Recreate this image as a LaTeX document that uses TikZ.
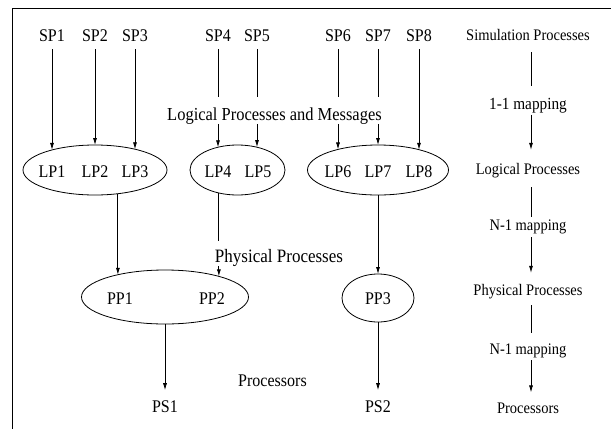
\documentclass[tikz,border=0pt]{standalone}
\usepackage{fontspec}
\setmainfont{Liberation Serif}[FakeStretch=0.9]
\usetikzlibrary{shapes.geometric,arrows.meta}
\begin{document}
\begin{tikzpicture}[x=1pt,y=-1pt,
  lbl/.style={inner sep=0pt,outer sep=0pt,anchor=base,font=\fontsize{17.8}{20}\selectfont},
  rcol/.style={inner sep=0pt,outer sep=0pt,anchor=base,font=\fontsize{16.1}{18}\selectfont},
  ell/.style={draw,ellipse,inner sep=0pt,outer sep=0pt,line width=0.8pt},
  conn/.style={line width=0.8pt},
  arr/.style={conn,-{Latex[length=7pt,width=4pt]}},
  frame/.style={line width=1pt}]
\useasboundingbox (0,0) rectangle (611,429);
\draw[frame] (611,8) -- (12,8) -- (12,429);

% top labels
\node[lbl] (sp1) at (52,41) {SP1};
\node[lbl] (sp2) at (95,41) {SP2};
\node[lbl] (sp3) at (135,41) {SP3};
\node[lbl] (sp4) at (218,41) {SP4};
\node[lbl] (sp5) at (257,41) {SP5};
\node[lbl] (sp6) at (338,41) {SP6};
\node[lbl] (sp7) at (378,41) {SP7};
\node[lbl] (sp8) at (419,41) {SP8};

% ellipses of logical processes
\node[ell,minimum width=144pt,minimum height=50pt] (e1) at (95,170) {};
\node[ell,minimum width=95pt,minimum height=50pt] (e2) at (237.5,170) {};
\node[ell,minimum width=141pt,minimum height=50pt] (e3) at (378,170) {};
\node[lbl] (lp1) at (52,177.5) {LP1};
\node[lbl] (lp2) at (95,177.5) {LP2};
\node[lbl] (lp3) at (135,177.5) {LP3};
\node[lbl] (lp4) at (218,177.5) {LP4};
\node[lbl] (lp5) at (258,177.5) {LP5};
\node[lbl] (lp6) at (338,177.5) {LP6};
\node[lbl] (lp7) at (378,177.5) {LP7};
\node[lbl] (lp8) at (419,177.5) {LP8};

\node[lbl,font=\fontsize{18.3}{20}\selectfont] (lpm) at (274.5,120) {Logical Processes and Messages};

% physical processes
\node[ell,minimum width=167pt,minimum height=54pt] (p1) at (165,297) {};
\node[ell,minimum width=72pt,minimum height=48pt] (p3) at (378,298) {};
\node[lbl] (pp1) at (120,304.5) {PP1};
\node[lbl] (pp2) at (212,304.5) {PP2};
\node[lbl] (pp3) at (378,304.5) {PP3};
\node[lbl,font=\fontsize{18.9}{21}\selectfont] (php) at (279,262) {Physical Processes};

% processors
\node[lbl] (ps1) at (165,412) {PS1};
\node[lbl] (ps2) at (378,412) {PS2};
\node[lbl] (prc) at (272.5,386.5) {Processors};

% SP -> LP
\draw[arr,shorten <=8pt] (sp1.south) -- (sp1.south |- e1.155);
\draw[arr,shorten <=8pt] (sp2.south) -- (sp2.south |- e1.north);
\draw[arr,shorten <=8pt] (sp3.south) -- (sp3.south |- e1.27);
\draw[conn,shorten <=8pt,shorten >=10.3pt] (sp4.south) -- (sp4.south |- lpm.north);
\draw[arr] (sp4.south |- lpm.south) -- (sp4.south |- e2.131);
\draw[conn,shorten <=8pt,shorten >=10.3pt] (sp5.south) -- (sp5.south |- lpm.north);
\draw[arr] (sp5.south |- lpm.south) -- (sp5.south |- e2.50);
\draw[conn,shorten <=8pt,shorten >=10.3pt] (sp6.south) -- (sp6.south |- lpm.north);
\draw[arr] (sp6.south |- lpm.south) -- (sp6.south |- e3.153);
\draw[conn,shorten <=8pt,shorten >=10.3pt] (sp7.south) -- (sp7.south |- lpm.north);
\draw[arr] (sp7.south |- lpm.south) -- (sp7.south |- e3.north);
\draw[arr,shorten <=8pt] (sp8.south) -- (sp8.south |- e3.26);

% LP -> PP
\draw[arr] (e1.-46) -- (e1.-46 |- p1.155);
\draw[conn,shorten >=7.4pt] (e2.231) -- (e2.231 |- php.north);
\draw[arr] (e2.231 |- php.south) -- (e2.231 |- p1.21);
\draw[arr] (e3.south) -- (e3.south |- p3.north);

% PP -> PS
\draw[arr,shorten >=10pt] (p1.south) -- (ps1.north);
\draw[arr,shorten >=10pt] (p3.south) -- (ps2.north);

% right column
\node[rcol] (r1) at (528,40) {Simulation Processes};
\node[rcol,font=\fontsize{17}{19}\selectfont] (r2) at (528,109) {1-1 mapping};
\node[rcol] (r3) at (528,174) {Logical Processes};
\node[rcol] (r4) at (528,230) {N-1 mapping};
\node[rcol] (r5) at (528,295) {Physical Processes};
\node[rcol] (r6) at (528,354) {N-1 mapping};
\node[rcol] (r7) at (528,413) {Processors};

\draw[conn,shorten <=12pt,shorten >=12pt] ([xshift=3pt]r1.south) -- ([xshift=3pt]r2.north);
\draw[arr,shorten <=2pt,shorten >=13pt] ([xshift=3pt]r2.south) -- ([xshift=3pt]r3.north);
\draw[conn,shorten <=10pt,shorten >=2pt] ([xshift=3pt]r3.south) -- ([xshift=3pt]r4.north);
\draw[arr,shorten <=4pt,shorten >=11pt] ([xshift=3pt]r4.south) -- ([xshift=3pt]r5.north);
\draw[conn,shorten <=7pt,shorten >=10pt] ([xshift=3pt]r5.south) -- ([xshift=3pt]r6.north);
\draw[arr,shorten <=3pt,shorten >=10pt] ([xshift=3pt]r6.south) -- ([xshift=3pt]r7.north);
\end{tikzpicture}
\end{document}
